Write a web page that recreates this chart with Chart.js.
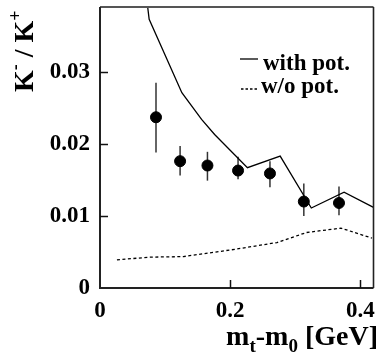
<!DOCTYPE html>
<html>
<head>
<meta charset="utf-8">
<script src="https://cdn.jsdelivr.net/npm/chart.js@4.4.1/dist/chart.umd.min.js"></script>
<style>
html,body{margin:0;padding:0;background:#fff;}
#wrap{width:380px;height:356px;position:relative;}
</style>
</head>
<body>
<div id="wrap"><canvas id="c" width="380" height="356"></canvas></div>
<script>
// Data points (K-/K+ ratio vs mt-m0)
const dataX = [0.086, 0.123, 0.165, 0.212, 0.261, 0.313, 0.367];
const dataY = [0.0237, 0.0176, 0.0170, 0.0163, 0.0159, 0.0120, 0.0118];
const dataLow = [0.0188, 0.0156, 0.0149, 0.0151, 0.0140, 0.0100, 0.0101];
const dataHigh = [0.0285, 0.0197, 0.0189, 0.0182, 0.0176, 0.0145, 0.0141];

// Model curve "with pot."
const withPotX = [0.0705, 0.0755, 0.1257, 0.156, 0.176, 0.2264, 0.2767, 0.3245, 0.3748, 0.42];
const withPotY = [0.0410, 0.0373, 0.0271, 0.0234, 0.0213, 0.0167, 0.0183, 0.0111, 0.0133, 0.0112];

// Model curve "w/o pot."
const woPotX = [0.026, 0.0755, 0.128, 0.2088, 0.2717, 0.317, 0.370, 0.4177];
const woPotY = [0.0039, 0.00428, 0.00436, 0.00539, 0.00631, 0.0077, 0.00831, 0.00692];

const xTickValues = [0, 0.2, 0.4];
const yTickValues = [0, 0.01, 0.02, 0.03];
const seriesLabels = ['with pot.', 'w/o pot.'];

const toXY = (xs, ys) => xs.map((x, i) => ({x: x, y: ys[i]}));
const FONT = '"Liberation Serif", "Times New Roman", serif';

const framePlugin = {
  id: 'frame',
  beforeDatasetsDraw(chart) {
    const ctx = chart.ctx, xs = chart.scales.x, ys = chart.scales.y;
    ctx.save();
    ctx.strokeStyle = '#333';
    ctx.lineWidth = 1.5;
    dataX.forEach((x, i) => {
      const px = xs.getPixelForValue(x);
      ctx.beginPath();
      ctx.moveTo(px, ys.getPixelForValue(dataLow[i]));
      ctx.lineTo(px, ys.getPixelForValue(dataHigh[i]));
      ctx.stroke();
    });
    ctx.restore();
  },
  afterDraw(chart) {
    const ctx = chart.ctx, a = chart.chartArea, xs = chart.scales.x, ys = chart.scales.y;
    ctx.save();
    ctx.strokeStyle = '#555';
    ctx.lineWidth = 2;
    ctx.beginPath(); ctx.moveTo(a.left, a.top); ctx.lineTo(a.right, a.top); ctx.stroke();
    ctx.strokeStyle = '#222';
    ctx.lineWidth = 1.6;
    ctx.beginPath(); ctx.moveTo(a.right, a.top); ctx.lineTo(a.right, a.bottom); ctx.stroke();
    ctx.lineWidth = 2;
    ctx.beginPath(); ctx.moveTo(a.left, a.top); ctx.lineTo(a.left, a.bottom); ctx.lineTo(a.right, a.bottom); ctx.stroke();
    ctx.lineWidth = 1.5;
    ctx.strokeStyle = '#111';
    yTickValues.forEach(v => {
      if (v === 0) return;
      const py = Math.round(ys.getPixelForValue(v)) + 0.5;
      ctx.beginPath(); ctx.moveTo(a.left, py); ctx.lineTo(a.left + 8, py); ctx.stroke();
    });
    xTickValues.forEach(v => {
      if (v === 0) return;
      const px = Math.round(xs.getPixelForValue(v)) + 0.5;
      ctx.beginPath(); ctx.moveTo(px, a.bottom); ctx.lineTo(px, a.bottom - 8); ctx.stroke();
    });
    // legend
    ctx.fillStyle = '#000';
    ctx.strokeStyle = '#000';
    ctx.font = 'bold 23px ' + FONT;
    ctx.textBaseline = 'alphabetic';
    ctx.textAlign = 'left';
    ctx.lineWidth = 1.3;
    ctx.setLineDash([]);
    ctx.beginPath(); ctx.moveTo(240, 59); ctx.lineTo(258, 59); ctx.stroke();
    ctx.fillText(seriesLabels[0], 263, 70);
    ctx.setLineDash([2.5, 2]);
    ctx.beginPath(); ctx.moveTo(241, 89); ctx.lineTo(258, 89); ctx.stroke();
    ctx.setLineDash([]);
    ctx.fillText(seriesLabels[1], 261, 93);

    // x title: m_t-m_0 [GeV]
    const big = 'bold 28px ' + FONT, small = 'bold 19px ' + FONT;
    const parts = [['m', big, 0], ['t', small, 7], ['-m', big, 0], ['0', small, 7], [' [GeV]', big, 0]];
    let total = 0;
    parts.forEach(p => { ctx.font = p[1]; total += ctx.measureText(p[0]).width; });
    let x0 = 378 - total;
    const base = 345;
    parts.forEach(p => { ctx.font = p[1]; ctx.fillText(p[0], x0, base + p[2]); x0 += ctx.measureText(p[0]).width; });

    // y title: K- / K+
    ctx.save();
    ctx.translate(33, 92);
    ctx.rotate(-Math.PI / 2);
    const yb = 'bold 28px ' + FONT, ys2 = 'bold 18px ' + FONT;
    const yparts = [['K', yb, 0], ['-', ys2, -12], [' / ', yb, 0], ['K', yb, 0], ['+', ys2, -12]];
    let yx = 0;
    yparts.forEach(p => { ctx.font = p[1]; ctx.fillText(p[0], yx, p[2]); yx += ctx.measureText(p[0]).width; });
    ctx.restore();
    ctx.restore();
  }
};

new Chart(document.getElementById('c'), {
  data: {
    datasets: [
      {
        type: 'line', label: seriesLabels[0], data: toXY(withPotX, withPotY),
        borderColor: '#000', borderWidth: 1.3, pointRadius: 0, fill: false, tension: 0, clip: 0
      },
      {
        type: 'line', label: seriesLabels[1], data: toXY(woPotX, woPotY),
        borderColor: '#000', borderWidth: 1.3, borderDash: [3, 2.5], pointRadius: 0, fill: false, tension: 0, clip: 0
      },
      {
        type: 'scatter', label: 'data', data: toXY(dataX, dataY),
        backgroundColor: '#000', borderColor: '#000', pointRadius: 5.5, pointHoverRadius: 5.5
      }
    ]
  },
  options: {
    responsive: false,
    animation: false,
    events: [],
    layout: {padding: {top: 7, right: 3, left: 0, bottom: 0}},
    plugins: {legend: {display: false}, tooltip: {enabled: false}},
    scales: {
      x: {
        type: 'linear', min: 0, max: 0.42,
        afterFit: s => { s.height = 68; s.paddingLeft = 0; s.paddingRight = 0; },
        border: {display: false},
        grid: {display: false, drawTicks: false},
        ticks: {
          stepSize: 0.2, includeBounds: false, padding: 9, color: '#000',
          font: {family: FONT, size: 23, weight: 'bold'},
          callback: v => (Math.abs(v) < 1e-9 ? '0' : v.toFixed(1))
        }
      },
      y: {
        type: 'linear', min: 0, max: 0.039,
        afterFit: s => { s.width = 100; s.paddingTop = 0; s.paddingBottom = 0; },
        border: {display: false},
        grid: {display: false, drawTicks: false},
        ticks: {
          stepSize: 0.01, includeBounds: false, padding: 10, color: '#000',
          font: {family: FONT, size: 23, weight: 'bold'},
          callback: v => (Math.abs(v) < 1e-9 ? '0' : v.toFixed(2))
        }
      }
    }
  },
  plugins: [framePlugin]
});
</script>
</body>
</html>
